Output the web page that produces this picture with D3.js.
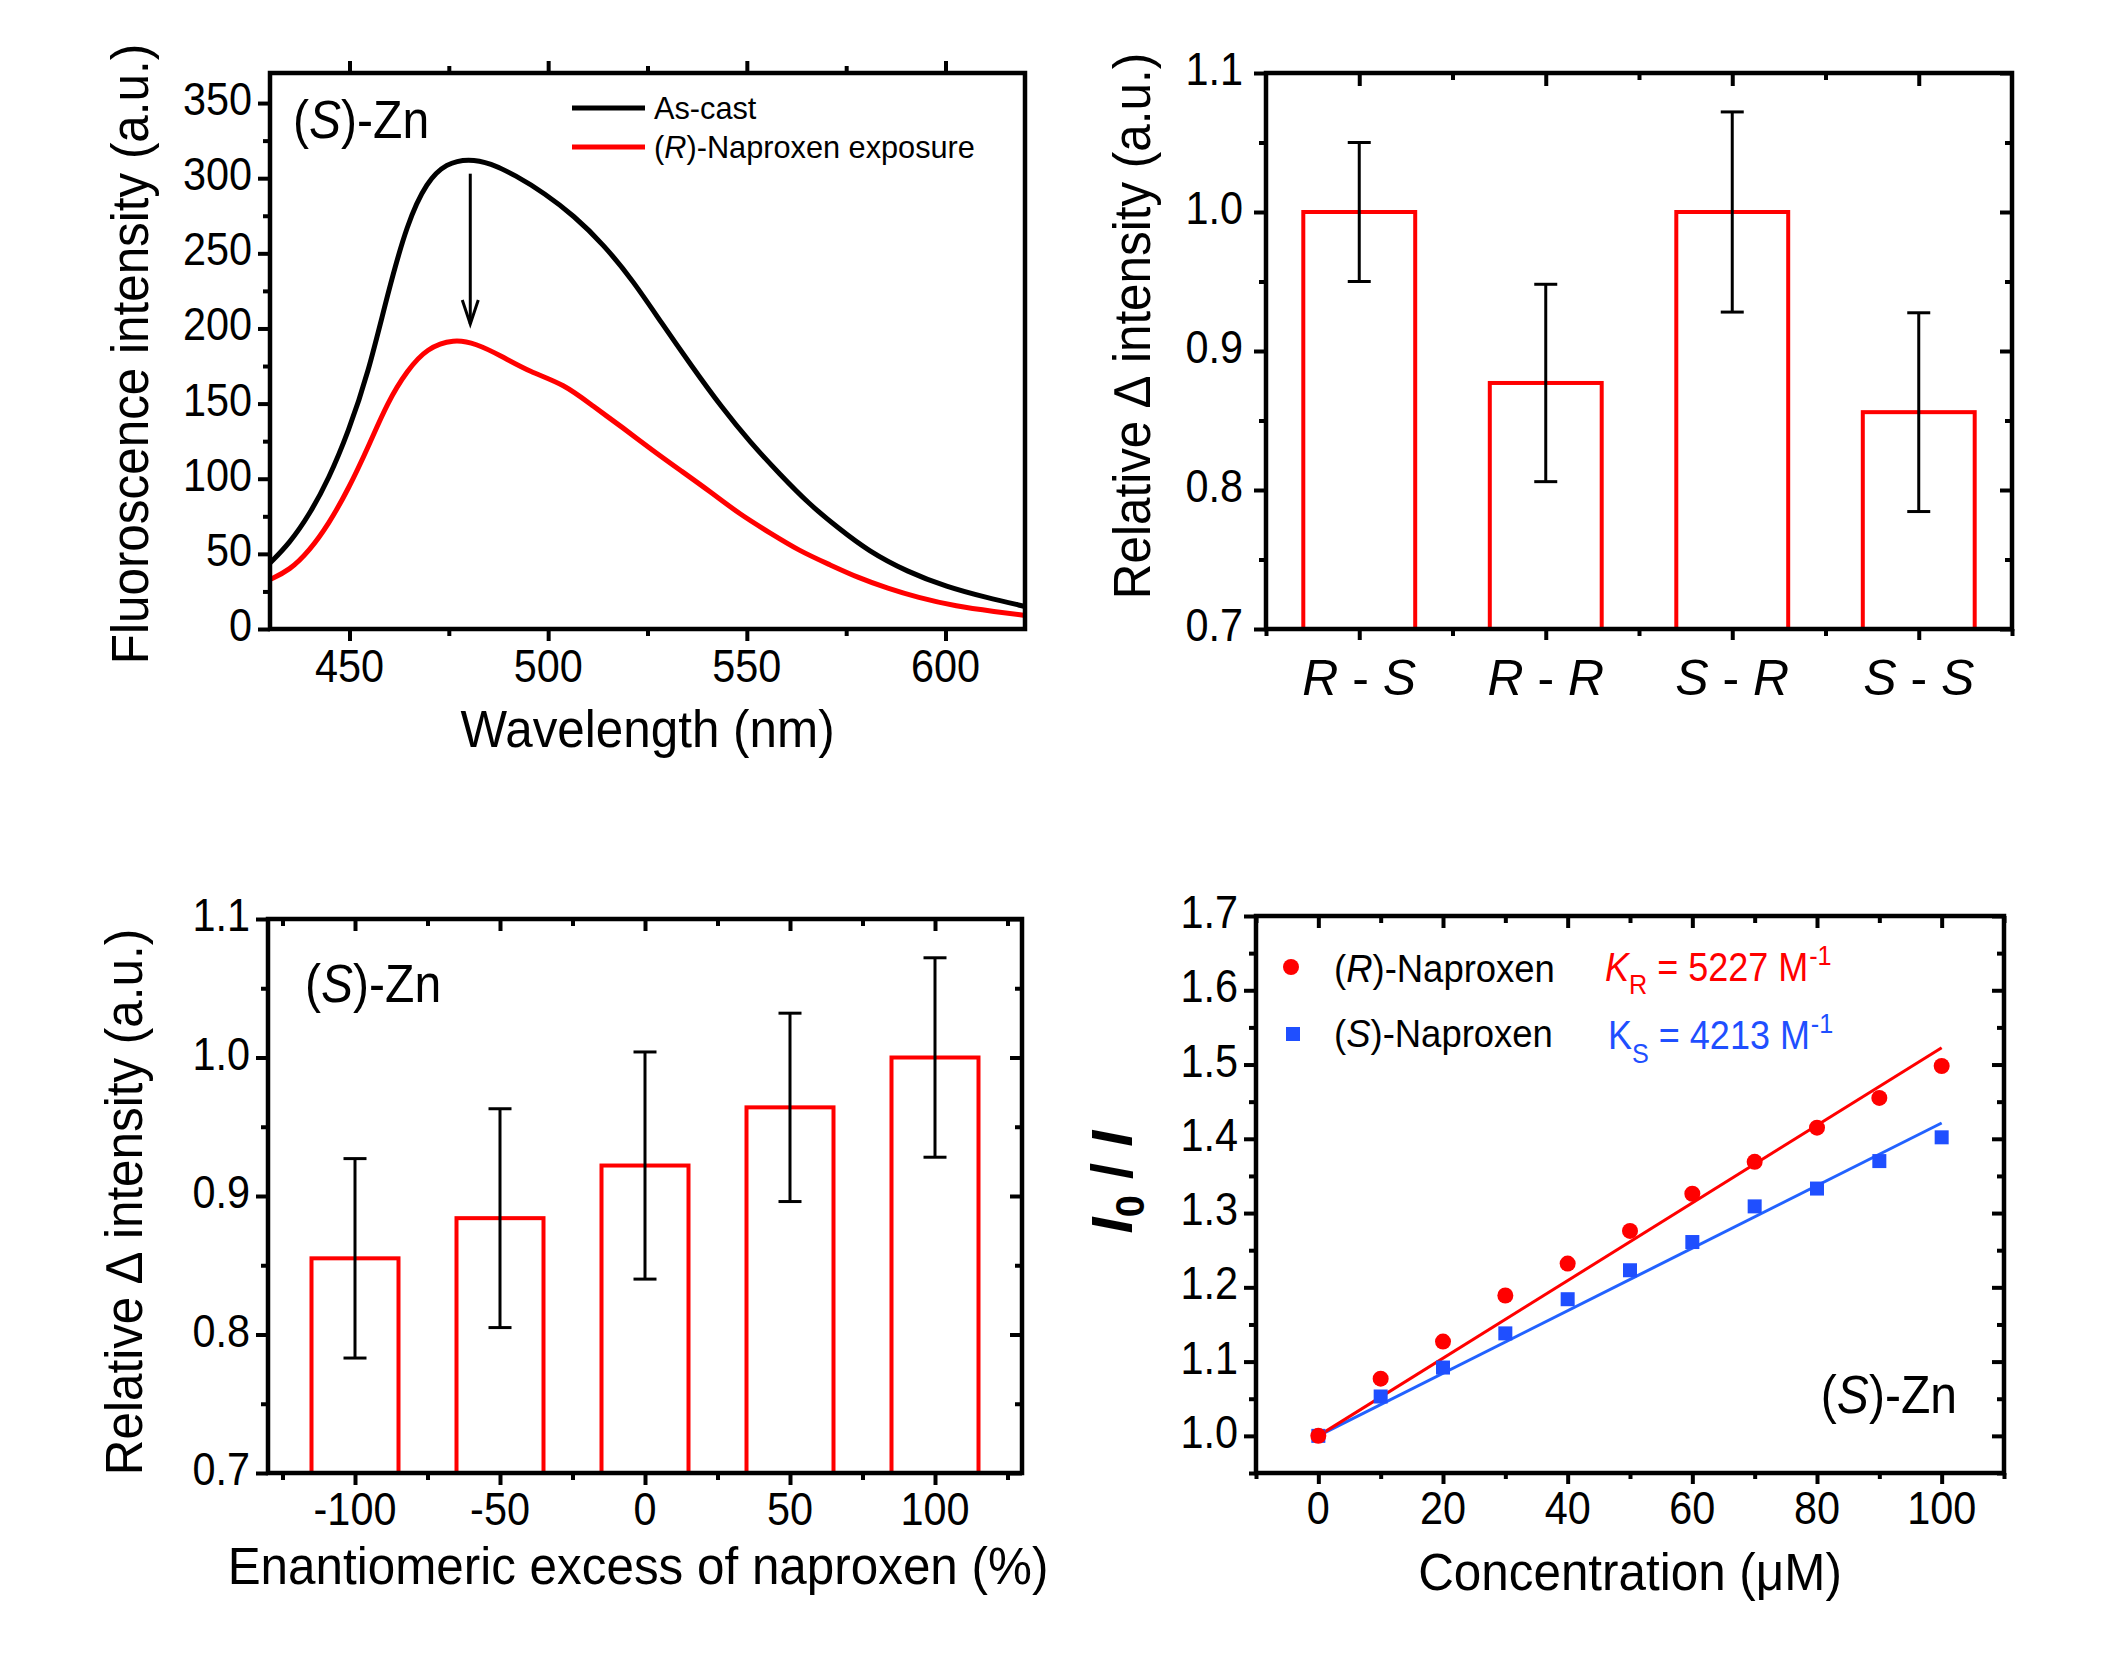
<!DOCTYPE html>
<html><head><meta charset="utf-8">
<script src="https://cdn.jsdelivr.net/npm/d3@7"></script>
<style>
body{margin:0;background:#fff}
svg{display:block}
text{font-family:"Liberation Sans",Arial,Helvetica,sans-serif}
</style>
</head><body>
<svg id="c" width="2126" height="1654"></svg>
<script>
// ---------------- DATA ----------------
// Panel 1: fluorescence spectra of (S)-Zn
const wlAsCast = [430,434.9,439.9,444.8,449.7,454.7,459.6,464.5,469.5,474.4,480,485.5,491.7,499.1,506.5,513.9,521.3,528.7,536.1,543.5,550.9,558.3,565.7,573.1,580.5,590.4,600.3,610.1,620];
const asCast   = [43.9,57,76,100,131,170,223,270,298,310,313,310,302,290,275,256,232,203,175,148,124,103,83,67,52,38,28,21,15];
const wlExposure = [430,434.9,439.9,444.8,449.7,454.7,459.6,464.5,469.5,476.3,481.8,488,495.4,504,511.4,518.8,526.2,533.6,541,548.4,555.8,563.2,570.7,578.1,585.5,592.9,602.7,612.6,620];
const exposure   = [33,39,52,70,93,121,151,172,187,193,190,182,171,163,148,134,119,105,91,76,64,52,43,34,27,21,15,11.5,9];
const spectraLegend = ["As-cast", "(R)-Naproxen exposure"];

// Panel 2: relative delta intensity by pair
const pairCats = [["R","S"],["R","R"],["S","R"],["S","S"]];
const pairVals = [1.0, 0.877, 1.0, 0.856];
const pairErr  = [0.050, 0.071, 0.072, 0.0715];

// Panel 3: enantiomeric excess
const eeVals  = [-100, -50, 0, 50, 100];
const eeMeans = [0.855, 0.884, 0.922, 0.964, 1.0];
const eeErr   = [0.072, 0.079, 0.082, 0.068, 0.072];

// Panel 4: Stern-Volmer
const conc   = [0,10,20,30,40,50,60,70,80,90,100];
const ratioR = [1.000,1.077,1.127,1.189,1.232,1.276,1.326,1.369,1.415,1.455,1.498];
const ratioS = [1.000,1.053,1.092,1.138,1.184,1.223,1.261,1.309,1.333,1.370,1.402];
const fitR = [[0,1.0],[100,1.5227]];
const fitS = [[0,1.0],[100,1.4213]];

// tick labels
const p1XTicks = [450,500,550,600], p1XMinor = [475,525,575];
const p1YTicks = [0,50,100,150,200,250,300,350], p1YMinor = [25,75,125,175,225,275,325];
const relYTicks = [0.7,0.8,0.9,1.0,1.1], relYMinor = [0.75,0.85,0.95,1.05];
const p3XMinor = [-125,-75,-25,25,75,125];
const p4XTicks = [0,20,40,60,80,100], p4XMinor = [-10,10,30,50,70,90,110];
const p4YTicks = [1.0,1.1,1.2,1.3,1.4,1.5,1.6,1.7], p4YMinor = [0.95,1.05,1.15,1.25,1.35,1.45,1.55,1.65];

// ---------------- HELPERS ----------------
const svg = d3.select("#c");
const RED = "#ff0000", BLUE = "#1f4fff", BLUE_LINE = "#2262ff";

function rich(g, x, y, segs, o) {
  o = Object.assign({size:46, anchor:"start", sx:0.9, rot:0, fill:"#000", weight:"normal"}, o||{});
  const t = g.append("g")
    .attr("transform", `translate(${x},${y})` + (o.rot ? ` rotate(${o.rot})` : "") + ` scale(${o.sx},1)`)
    .append("text").attr("font-size", o.size).attr("text-anchor", o.anchor)
    .attr("fill", o.fill).attr("font-weight", o.weight);
  segs.forEach(s => {
    if (typeof s === "string") s = {t:s};
    const ts = t.append("tspan").text(s.t);
    if (s.i) ts.attr("font-style", "italic");
    if (s.s) ts.attr("font-size", s.s);
    if (s.dy) ts.attr("dy", s.dy);
    if (s.dx) ts.attr("dx", s.dx);
    if (s.fill) ts.attr("fill", s.fill);
  });
  return t;
}

function tickAxis(g, axisFn, scale, vals, size, tr) {
  const ag = g.append("g").attr("transform", tr)
    .call(axisFn(scale).tickValues(vals).tickSize(size).tickFormat(""));
  ag.select(".domain").remove();
  ag.selectAll("line").attr("stroke", "#000").attr("stroke-width", 4);
}

function frame(g, l, r, t, b) {
  g.append("rect").attr("x", l).attr("y", t).attr("width", r - l).attr("height", b - t)
    .attr("fill", "none").attr("stroke", "#000").attr("stroke-width", 4.5);
}

// ---------------- PANEL 1 ----------------
(function(){
  const L=270, R=1025, T=73, B=629;
  const g = svg.append("g");
  const x = d3.scaleLinear().domain([430,620]).range([L,R]);
  const y = d3.scaleLinear().domain([0,370]).range([B,T]);
  const line = d3.line().x(d => x(d[0])).y(d => y(d[1])).curve(d3.curveBasis);
  g.append("path").datum(wlAsCast.map((w,i)=>[w,asCast[i]])).attr("d", line)
    .attr("fill","none").attr("stroke","#000").attr("stroke-width",5);
  g.append("path").datum(wlExposure.map((w,i)=>[w,exposure[i]])).attr("d", line)
    .attr("fill","none").attr("stroke",RED).attr("stroke-width",5);
  // arrow
  const ax = x(480.4), ay1 = y(303), ay2 = y(203);
  g.append("line").attr("x1",ax).attr("x2",ax).attr("y1",ay1).attr("y2",ay2)
    .attr("stroke","#000").attr("stroke-width",3);
  g.append("path").attr("d",`M${ax-8},${ay2-24} L${ax},${ay2} L${ax+8},${ay2-24}`)
    .attr("fill","none").attr("stroke","#000").attr("stroke-width",3);
  // ticks
  tickAxis(g, d3.axisBottom, x, p1XTicks, 12, `translate(0,${B})`);
  tickAxis(g, d3.axisBottom, x, p1XMinor, 7, `translate(0,${B})`);
  tickAxis(g, d3.axisTop, x, p1XTicks, 12, `translate(0,${T})`);
  tickAxis(g, d3.axisTop, x, p1XMinor, 7, `translate(0,${T})`);
  tickAxis(g, d3.axisLeft, y, p1YTicks, 12, `translate(${L},0)`);
  tickAxis(g, d3.axisLeft, y, p1YMinor, 7, `translate(${L},0)`);
  frame(g, L, R, T, B);
  p1YTicks.forEach(v => rich(g, L-18, y(v)+12, [String(v)], {anchor:"end"}));
  p1XTicks.forEach(v => rich(g, x(v), B+53, [String(v)], {anchor:"middle"}));
  rich(g, (L+R)/2, 747, ["Wavelength (nm)"], {size:52, sx:0.95, anchor:"middle"});
  rich(g, 148, 354, ["Fluoroscence intensity (a.u.)"], {size:52, sx:0.95, anchor:"middle", rot:-90});
  rich(g, 293, 138, ["(", {t:"S", i:1}, ")-Zn"], {size:54, sx:0.89});
  // legend
  g.append("line").attr("x1",572).attr("x2",645).attr("y1",108).attr("y2",108).attr("stroke","#000").attr("stroke-width",5);
  g.append("line").attr("x1",572).attr("x2",645).attr("y1",147).attr("y2",147).attr("stroke",RED).attr("stroke-width",5);
  rich(g, 654, 119, [spectraLegend[0]], {size:32, sx:0.96});
  rich(g, 654, 158, ["(", {t:"R", i:1}, ")" + spectraLegend[1].slice(3)], {size:32, sx:0.96});
})();

// ---------------- bar panel helper ----------------
function barPanel(L, R, T, B, xs, means, errs) {
  const g = svg.append("g");
  const y = d3.scaleLinear().domain([0.7,1.1]).range([B,T]);
  g.selectAll("rect.bar").data(means).enter().append("rect").attr("class","bar")
    .attr("x", (d,i) => xs.x0(i)).attr("width", (d,i) => xs.w(i))
    .attr("y", d => y(d)).attr("height", d => y(0.7) - y(d))
    .attr("fill","none").attr("stroke",RED).attr("stroke-width",4);
  means.forEach((m,i) => {
    const cx = xs.c(i), e = errs[i];
    g.append("line").attr("x1",cx).attr("x2",cx).attr("y1",y(m+e)).attr("y2",y(m-e)).attr("stroke","#000").attr("stroke-width",3);
    [m+e, m-e].forEach(v => g.append("line").attr("x1",cx-11.5).attr("x2",cx+11.5).attr("y1",y(v)).attr("y2",y(v)).attr("stroke","#000").attr("stroke-width",3));
  });
  tickAxis(g, d3.axisLeft, y, relYTicks, 12, `translate(${L},0)`);
  tickAxis(g, d3.axisLeft, y, relYMinor, 7, `translate(${L},0)`);
  tickAxis(g, d3.axisRight, y, relYTicks, -12, `translate(${R},0)`);
  tickAxis(g, d3.axisRight, y, relYMinor, -7, `translate(${R},0)`);
  return {g, y};
}

// ---------------- PANEL 2 ----------------
(function(){
  const L=1266, R=2012, T=73, B=629;
  const xb = d3.scaleBand().domain(pairCats.map(c => c.join("-"))).range([L,R]).paddingInner(0.4).paddingOuter(0.2);
  const xl = d3.scaleLinear().domain([0.5,4.5]).range([L,R]);
  const keys = pairCats.map(c => c.join("-"));
  const {g, y} = barPanel(L,R,T,B,{
    x0: i => xb(keys[i]), w: () => xb.bandwidth(), c: i => xb(keys[i]) + xb.bandwidth()/2
  }, pairVals, pairErr);
  tickAxis(g, d3.axisBottom, xl, [1,2,3,4], 11, `translate(0,${B})`);
  tickAxis(g, d3.axisBottom, xl, [0.5,1.5,2.5,3.5,4.5], 7, `translate(0,${B})`);
  tickAxis(g, d3.axisTop, xl, [1,2,3,4], -13, `translate(0,${T})`);
  tickAxis(g, d3.axisTop, xl, [1.5,2.5,3.5], -7, `translate(0,${T})`);
  frame(g, L, R, T, B);
  relYTicks.forEach(v => rich(g, L-23, y(v)+12, [v.toFixed(1)], {anchor:"end"}));
  pairCats.forEach((c,i) => rich(g, xb(keys[i]) + xb.bandwidth()/2, 695,
    [{t:c[0], i:1}, " - ", {t:c[1], i:1}], {size:50, sx:1, anchor:"middle"}));
  rich(g, 1150, 326, ["Relative \u2206 intensity (a.u.)"], {size:52, sx:0.95, anchor:"middle", rot:-90});
})();

// ---------------- PANEL 3 ----------------
(function(){
  const L=268, R=1022, T=919, B=1473;
  const x = d3.scaleLinear().domain([-130,130]).range([L,R]);
  const hw = 15;
  const {g, y} = barPanel(L,R,T,B,{
    x0: i => x(eeVals[i]-hw), w: i => x(eeVals[i]+hw) - x(eeVals[i]-hw), c: i => x(eeVals[i])
  }, eeMeans, eeErr);
  tickAxis(g, d3.axisBottom, x, eeVals, 12, `translate(0,${B})`);
  tickAxis(g, d3.axisBottom, x, p3XMinor, 7, `translate(0,${B})`);
  tickAxis(g, d3.axisTop, x, eeVals, -12, `translate(0,${T})`);
  tickAxis(g, d3.axisTop, x, p3XMinor, -7, `translate(0,${T})`);
  frame(g, L, R, T, B);
  relYTicks.forEach(v => rich(g, L-18, y(v)+12, [v.toFixed(1)], {anchor:"end"}));
  eeVals.forEach(v => rich(g, x(v), B+52, [String(v)], {anchor:"middle"}));
  rich(g, 638, 1584, ["Enantiomeric excess of naproxen (%)"], {size:52, sx:0.95, anchor:"middle"});
  rich(g, 142, 1202, ["Relative \u2206 intensity (a.u.)"], {size:52, sx:0.95, anchor:"middle", rot:-90});
  rich(g, 305, 1002, ["(", {t:"S", i:1}, ")-Zn"], {size:54, sx:0.89});
})();

// ---------------- PANEL 4 ----------------
(function(){
  const L=1256, R=2004, T=916, B=1473;
  const g = svg.append("g");
  const x = d3.scaleLinear().domain([-10,110]).range([L,R]);
  const y = d3.scaleLinear().domain([0.95,1.7]).range([B,T]);
  const ln = d3.line().x(d => x(d[0])).y(d => y(d[1]));
  g.append("path").attr("d", ln(fitS)).attr("stroke", BLUE_LINE).attr("stroke-width", 3).attr("fill","none");
  g.append("path").attr("d", ln(fitR)).attr("stroke", RED).attr("stroke-width", 3).attr("fill","none");
  g.selectAll("rect.sq").data(ratioS).enter().append("rect").attr("class","sq")
    .attr("x", (d,i) => x(conc[i]) - 7).attr("y", d => y(d) - 7).attr("width",14).attr("height",14).attr("fill",BLUE);
  g.selectAll("circle.ci").data(ratioR).enter().append("circle").attr("class","ci")
    .attr("cx", (d,i) => x(conc[i])).attr("cy", d => y(d)).attr("r",8).attr("fill",RED);
  tickAxis(g, d3.axisBottom, x, p4XTicks, 11, `translate(0,${B})`);
  tickAxis(g, d3.axisBottom, x, p4XMinor, 6, `translate(0,${B})`);
  tickAxis(g, d3.axisTop, x, p4XTicks, -12, `translate(0,${T})`);
  tickAxis(g, d3.axisTop, x, p4XMinor, -7, `translate(0,${T})`);
  tickAxis(g, d3.axisLeft, y, p4YTicks, 12, `translate(${L},0)`);
  tickAxis(g, d3.axisLeft, y, p4YMinor, 7, `translate(${L},0)`);
  tickAxis(g, d3.axisRight, y, p4YTicks, -12, `translate(${R},0)`);
  tickAxis(g, d3.axisRight, y, p4YMinor, -7, `translate(${R},0)`);
  frame(g, L, R, T, B);
  p4YTicks.forEach(v => rich(g, L-18, y(v)+12, [v.toFixed(1)], {anchor:"end"}));
  p4XTicks.forEach(v => rich(g, x(v), B+51, [String(v)], {anchor:"middle"}));
  rich(g, (L+R)/2, 1590, ["Concentration (\u03bcM)"], {size:52, sx:0.95, anchor:"middle"});
  rich(g, 1132, 1182, [{t:"I", i:1}, {t:"0", s:40, dy:12}, {t:" / ", dy:-12}, {t:"I", i:1}],
       {size:58, sx:1, anchor:"middle", rot:-90, weight:"bold"});
  // legend
  g.append("circle").attr("cx",1291).attr("cy",967).attr("r",8).attr("fill",RED);
  g.append("rect").attr("x",1286).attr("y",1027).attr("width",14).attr("height",14).attr("fill",BLUE);
  rich(g, 1334, 982, ["(", {t:"R", i:1}, ")-Naproxen"], {size:38, sx:0.96});
  rich(g, 1334, 1047, ["(", {t:"S", i:1}, ")-Naproxen"], {size:38, sx:0.96});
  rich(g, 1605, 981, [{t:"K", i:1}, {t:"R", s:28, dy:13}, {t:" = 5227 M", dy:-13}, {t:"-1", s:28, dy:-16, dx:1}],
       {size:40, sx:0.9, fill:RED});
  rich(g, 1608, 1049, [{t:"K"}, {t:"S", s:28, dy:14}, {t:" = 4213 M", dy:-14}, {t:"-1", s:28, dy:-16, dx:1}],
       {size:40, sx:0.9, fill:BLUE});
  rich(g, 1957, 1413, ["(", {t:"S", i:1}, ")-Zn"], {size:54, sx:0.89, anchor:"end"});
})();
</script>
</body></html>
